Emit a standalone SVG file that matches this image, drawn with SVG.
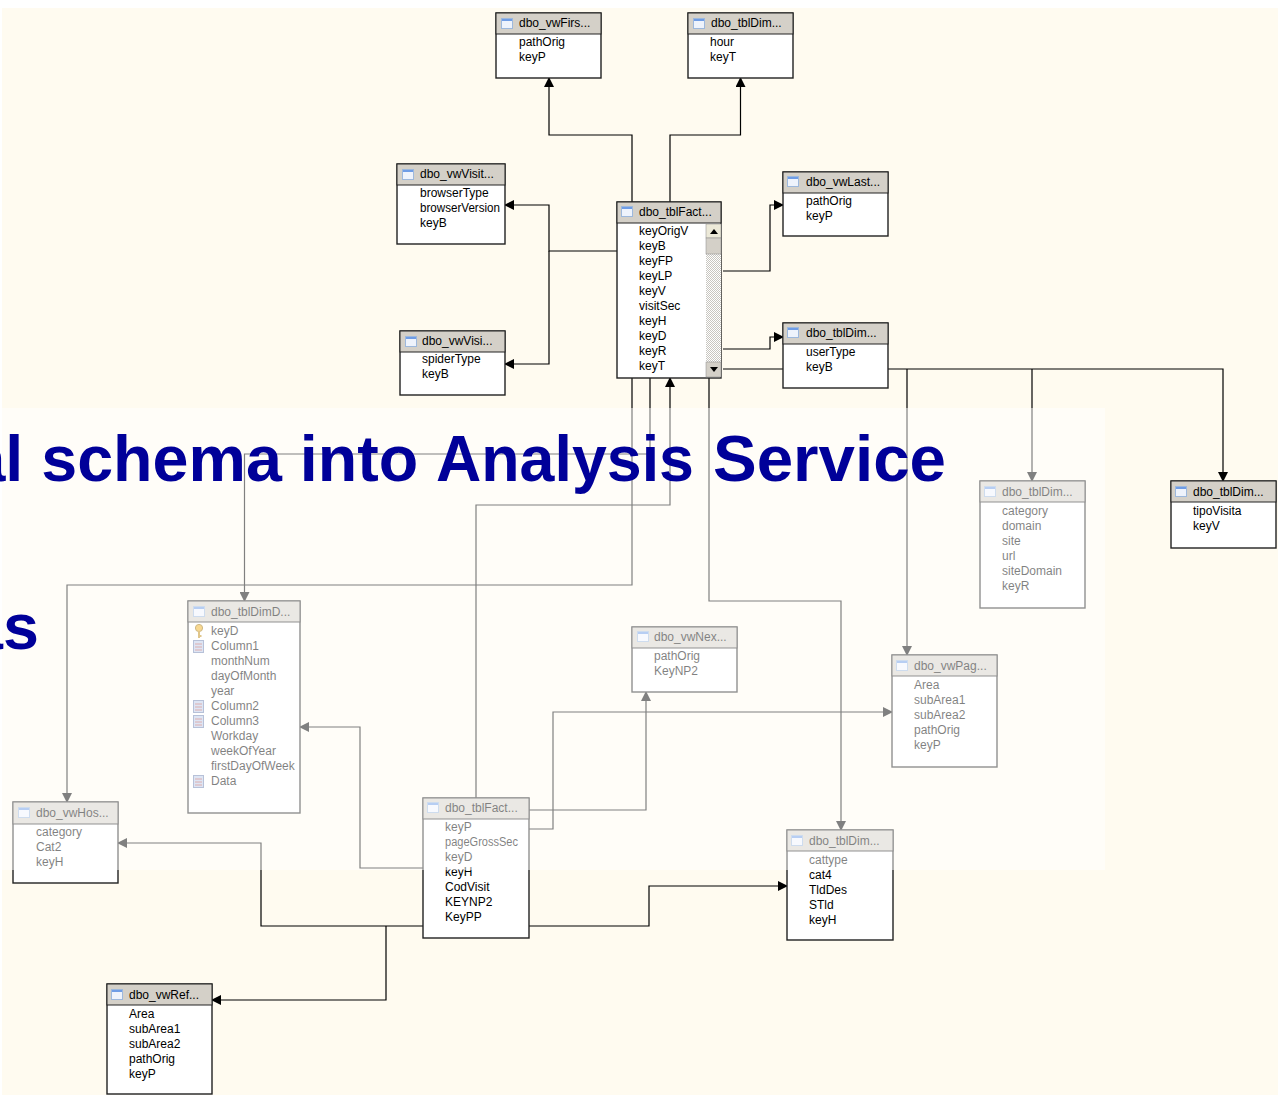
<svg xmlns="http://www.w3.org/2000/svg" width="1278" height="1096" viewBox="0 0 1278 1096">
<style>
text{font-family:"Liberation Sans",Arial,sans-serif;font-size:12px;fill:#000}
.box{fill:#fff;stroke:#222;stroke-width:1.4}
.hd{fill:#d4d0c8;stroke:#222;stroke-width:1}
.c{fill:none;stroke:#000;stroke-width:1.2}
.t{font-weight:bold;font-size:64.6px;fill:#000099}
</style>
<defs>
<pattern id="dither" width="2" height="2" patternUnits="userSpaceOnUse"><rect width="2" height="2" fill="#fff"/><rect width="1" height="1" fill="#c8c6c0"/><rect x="1" y="1" width="1" height="1" fill="#c8c6c0"/></pattern>
<marker id="a" markerUnits="userSpaceOnUse" markerWidth="10" markerHeight="10" refX="9" refY="5" orient="auto"><path d="M0 0L10 5L0 10z" fill="#000"/></marker>
<g id="ti"><rect x="0.5" y="0.5" width="11" height="10" fill="#eef3fc" stroke="#9db8dc"/><rect x="1" y="1" width="10" height="2" fill="#6f9de6"/></g>
<g id="ca"><rect x="0.5" y="0.5" width="10" height="12" fill="#bccbe8" stroke="#6f82b0"/><path d="M2 4h7M2 7h7M2 10h7" stroke="#b85c5c"/></g>
<g id="ke"><circle cx="5" cy="4" r="3.6" fill="#f0b020" stroke="#9c7008"/><path d="M5 7v7M5 12h2.5" stroke="#c08c18" stroke-width="2" fill="none"/></g>
</defs>
<rect width="1278" height="1096" fill="#fff"/>
<rect x="2" y="8" width="1276" height="1087" fill="#fffbf0"/>
<g id="connectors">
<path class="c" marker-end="url(#a)" d="M632 202V135H549V78"/>
<path class="c" marker-end="url(#a)" d="M670 202V135H740.500V78"/>
<path class="c" marker-end="url(#a)" d="M617 251H549V205H505"/>
<path class="c" marker-end="url(#a)" d="M549 251V364H505"/>
<path class="c" marker-end="url(#a)" d="M723 271H770V205H783"/>
<path class="c" marker-end="url(#a)" d="M723 349H770V337H783"/>
<path class="c" d="M723 369H783"/>
<path class="c" marker-end="url(#a)" d="M888 369H1223V481"/>
<path class="c" marker-end="url(#a)" d="M907 369V655"/>
<path class="c" marker-end="url(#a)" d="M1032 369V481"/>
<path class="c" marker-end="url(#a)" d="M632 378V585H67V802"/>
<path class="c" marker-end="url(#a)" d="M650 378V454H244.500V601"/>
<path class="c" marker-end="url(#a)" d="M476 798V505H670V378"/>
<path class="c" marker-end="url(#a)" d="M709 378V601H841V830"/>
<path class="c" marker-end="url(#a)" d="M529 829H553V712H892"/>
<path class="c" marker-end="url(#a)" d="M529 810H646V692"/>
<path class="c" marker-end="url(#a)" d="M423 868H360V727H300"/>
<path class="c" marker-end="url(#a)" d="M423 926H261V843H118"/>
<path class="c" marker-end="url(#a)" d="M386 926V1000H212"/>
<path class="c" marker-end="url(#a)" d="M529 926H649V886H787"/>
</g>
<g id="n1"><rect class="box" x="496" y="13" width="105" height="65"/><rect class="hd" x="496" y="13" width="105" height="21"/><use href="#ti" x="501" y="18"/><text x="519" y="27">dbo_vwFirs...</text><text x="519" y="46">pathOrig</text><text x="519" y="61">keyP</text></g>
<g id="n2"><rect class="box" x="688" y="13" width="105" height="65"/><rect class="hd" x="688" y="13" width="105" height="21"/><use href="#ti" x="693" y="18"/><text x="711" y="27">dbo_tblDim...</text><text x="710" y="46">hour</text><text x="710" y="61">keyT</text></g>
<g id="n3"><rect class="box" x="397" y="164" width="108" height="80"/><rect class="hd" x="397" y="164" width="108" height="21"/><use href="#ti" x="402" y="169"/><text x="420" y="178">dbo_vwVisit...</text><text x="420" y="197">browserType</text><text x="420" y="212" textLength="80" lengthAdjust="spacingAndGlyphs">browserVersion</text><text x="420" y="227">keyB</text></g>
<g id="n4"><rect class="box" x="400" y="331" width="105" height="64"/><rect class="hd" x="400" y="331" width="105" height="21"/><use href="#ti" x="405" y="336"/><text x="422" y="345">dbo_vwVisi...</text><text x="422" y="363">spiderType</text><text x="422" y="378">keyB</text></g>
<g id="n5"><rect class="box" x="617" y="202" width="104" height="176"/><rect class="hd" x="617" y="202" width="104" height="21"/><use href="#ti" x="621" y="206"/><text x="639" y="216">dbo_tblFact...</text><text x="639" y="235">keyOrigV</text><text x="639" y="250">keyB</text><text x="639" y="265">keyFP</text><text x="639" y="280">keyLP</text><text x="639" y="295">keyV</text><text x="639" y="310">visitSec</text><text x="639" y="325">keyH</text><text x="639" y="340">keyD</text><text x="639" y="355">keyR</text><text x="639" y="370">keyT</text>
<rect x="706" y="224" width="15" height="153" fill="url(#dither)"/><rect x="706" y="224" width="15" height="14" fill="#ece9d8" stroke="#888" stroke-width=".5"/><path d="M710 234L714 229L718 234z"/><rect x="706" y="238" width="15" height="16" fill="#d4d0c8" stroke="#888" stroke-width=".5"/><rect x="706" y="362" width="15" height="15" fill="#d4d0c8" stroke="#888" stroke-width=".5"/><path d="M710 367L714 372L718 367z"/></g>
<g id="n6"><rect class="box" x="783" y="172" width="105" height="64"/><rect class="hd" x="783" y="172" width="105" height="21"/><use href="#ti" x="787" y="176"/><text x="806" y="186">dbo_vwLast...</text><text x="806" y="205">pathOrig</text><text x="806" y="220">keyP</text></g>
<g id="n7"><rect class="box" x="783" y="323" width="105" height="65"/><rect class="hd" x="783" y="323" width="105" height="21"/><use href="#ti" x="787" y="327"/><text x="806" y="337">dbo_tblDim...</text><text x="806" y="356">userType</text><text x="806" y="371">keyB</text></g>
<g id="n8"><rect class="box" x="980" y="481" width="105" height="127"/><rect class="hd" x="980" y="481" width="105" height="21"/><use href="#ti" x="984" y="486"/><text x="1002" y="496">dbo_tblDim...</text><text x="1002" y="515">category</text><text x="1002" y="530">domain</text><text x="1002" y="545">site</text><text x="1002" y="560">url</text><text x="1002" y="575">siteDomain</text><text x="1002" y="590">keyR</text></g>
<g id="n9"><rect class="box" x="1171" y="481" width="105" height="67"/><rect class="hd" x="1171" y="481" width="105" height="21"/><use href="#ti" x="1175" y="486"/><text x="1193" y="496">dbo_tblDim...</text><text x="1193" y="515">tipoVisita</text><text x="1193" y="530">keyV</text></g>
<g id="n10"><rect class="box" x="188" y="601" width="112" height="212"/><rect class="hd" x="188" y="601" width="112" height="21"/><use href="#ti" x="193" y="606"/><text x="211" y="616">dbo_tblDimD...</text><use href="#ke" x="194" y="624"/><text x="211" y="635">keyD</text><use href="#ca" x="193" y="640"/><text x="211" y="650">Column1</text><text x="211" y="665">monthNum</text><text x="211" y="680">dayOfMonth</text><text x="211" y="695">year</text><use href="#ca" x="193" y="700"/><text x="211" y="710">Column2</text><use href="#ca" x="193" y="715"/><text x="211" y="725">Column3</text><text x="211" y="740">Workday</text><text x="211" y="755">weekOfYear</text><text x="211" y="770">firstDayOfWeek</text><use href="#ca" x="193" y="775"/><text x="211" y="785">Data</text></g>
<g id="n11"><rect class="box" x="632" y="627" width="105" height="65"/><rect class="hd" x="632" y="627" width="105" height="21"/><use href="#ti" x="637" y="631"/><text x="654" y="641">dbo_vwNex...</text><text x="654" y="660">pathOrig</text><text x="654" y="675">KeyNP2</text></g>
<g id="n12"><rect class="box" x="892" y="655" width="105" height="112"/><rect class="hd" x="892" y="655" width="105" height="21"/><use href="#ti" x="896" y="660"/><text x="914" y="670">dbo_vwPag...</text><text x="914" y="689">Area</text><text x="914" y="704">subArea1</text><text x="914" y="719">subArea2</text><text x="914" y="734">pathOrig</text><text x="914" y="749">keyP</text></g>
<g id="n13"><rect class="box" x="13" y="802" width="105" height="81"/><rect class="hd" x="13" y="802" width="105" height="22"/><use href="#ti" x="18" y="807"/><text x="36" y="817">dbo_vwHos...</text><text x="36" y="836">category</text><text x="36" y="851">Cat2</text><text x="36" y="866">keyH</text></g>
<g id="n14"><rect class="box" x="423" y="798" width="106" height="140"/><rect class="hd" x="423" y="798" width="106" height="21"/><use href="#ti" x="427" y="802"/><text x="445" y="812">dbo_tblFact...</text><text x="445" y="831">keyP</text><text x="445" y="846" textLength="73" lengthAdjust="spacingAndGlyphs">pageGrossSec</text><text x="445" y="861">keyD</text><text x="445" y="876">keyH</text><text x="445" y="891">CodVisit</text><text x="445" y="906">KEYNP2</text><text x="445" y="921">KeyPP</text></g>
<g id="n15"><rect class="box" x="787" y="830" width="106" height="110"/><rect class="hd" x="787" y="830" width="106" height="21"/><use href="#ti" x="791" y="835"/><text x="809" y="845">dbo_tblDim...</text><text x="809" y="864">cattype</text><text x="809" y="879">cat4</text><text x="809" y="894">TldDes</text><text x="809" y="909">STld</text><text x="809" y="924">keyH</text></g>
<g id="n16"><rect class="box" x="107" y="984" width="105" height="110"/><rect class="hd" x="107" y="984" width="105" height="21"/><use href="#ti" x="111" y="989"/><text x="129" y="999">dbo_vwRef...</text><text x="129" y="1018">Area</text><text x="129" y="1033">subArea1</text><text x="129" y="1048">subArea2</text><text x="129" y="1063">pathOrig</text><text x="129" y="1078">keyP</text></g>
<rect x="2" y="408" width="1103" height="462" fill="#fff" fill-opacity=".5"/>
<text class="t" x="-30.600" y="481">al schema into <tspan x="436" dx="0" textLength="258" lengthAdjust="spacingAndGlyphs">Analysis</tspan> <tspan x="713" textLength="233" lengthAdjust="spacingAndGlyphs">Service</tspan></text>
<text class="t" x="-33" y="649">as</text>
</svg>
